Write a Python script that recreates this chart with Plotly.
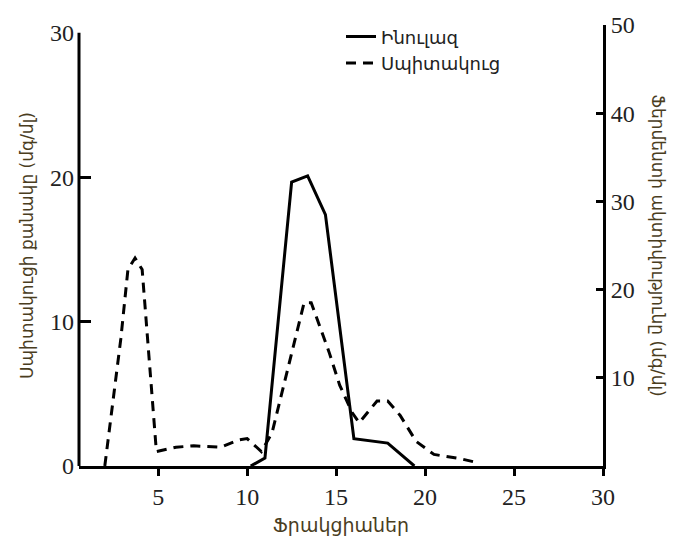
import plotly.graph_objects as go

# Inulase activity (right axis)
inulase_x = [10.2, 11.0, 12.5, 13.4, 14.4, 16.0, 17.9, 19.4]
inulase_y = [0.0, 0.9, 32.2, 32.9, 28.5, 3.1, 2.6, 0.0]

# Protein amount (left axis)
protein_x = [2.0, 2.9, 3.3, 3.7, 4.1, 4.9, 6.0, 7.0, 8.5, 9.5, 10.0, 10.8, 11.4,
             11.9, 12.4, 13.2, 13.6, 14.6, 15.2, 15.9, 16.3, 17.3, 17.9, 18.6,
             19.5, 20.5, 22.0, 22.7]
protein_y = [0.0, 8.8, 13.6, 14.4, 13.6, 1.0, 1.3, 1.4, 1.3, 1.8, 1.9, 1.0, 2.3,
             4.8, 7.4, 11.3, 11.3, 7.9, 5.6, 3.7, 3.0, 4.5, 4.5, 3.5,
             1.7, 0.8, 0.5, 0.3]

x_ticks = [5, 10, 15, 20, 25, 30]
left_ticks = [0, 10, 20, 30]
left_tick_marks = [10, 20]
right_ticks = [10, 20, 30, 40, 50]

name_inulase = "Ինուլազ"
name_protein = "Սպիտակուց"
x_title = "Ֆրակցիաներ"
left_title = "Սպիտակուցի քանակը (մգ/մլ)"
right_title = "Ֆերմենտի ակտիվությունը (մգ/մլ)"

title_color = "#4a3d1e"
arm_font = "DejaVu Sans"
num_font = "Liberation Serif"

fig = go.Figure()
fig.add_trace(go.Scatter(x=inulase_x, y=inulase_y, mode="lines", name=name_inulase,
                         yaxis="y2", line=dict(color="black", width=3)))
fig.add_trace(go.Scatter(x=protein_x, y=protein_y, mode="lines", name=name_protein,
                         yaxis="y", line=dict(color="black", width=3, dash="10px,7px")))

fig.update_layout(
    width=677, height=545,
    margin=dict(l=79, r=74, t=16, b=70),
    paper_bgcolor="white", plot_bgcolor="white",
    showlegend=True,
    legend=dict(x=0.50, y=1.015, xanchor="left", yanchor="top",
                bgcolor="rgba(0,0,0,0)", font=dict(family=arm_font, size=18, color="#222"),
                tracegroupgap=0),
    xaxis=dict(range=[0.55, 30], tickvals=x_ticks, ticks="outside", ticklen=7, tickwidth=3,
               tickcolor="black", showline=True, linecolor="black", linewidth=3,
               showgrid=False, zeroline=False,
               tickfont=dict(family=num_font, size=24, color="#222"),
               title=dict(text=x_title, font=dict(family=arm_font, size=19, color=title_color),
                          standoff=10)),
    yaxis=dict(range=[0, 30.53], tickvals=left_ticks, ticks="", ticklabelstandoff=4,
               showline=False, showgrid=False, zeroline=False,
               minor=dict(tickvals=left_tick_marks, ticks="inside", ticklen=12, tickwidth=3,
                          tickcolor="black", showgrid=False),
               tickfont=dict(family=num_font, size=24, color="#222"),
               title=dict(text=left_title, font=dict(family=arm_font, size=17, color=title_color),
                          standoff=12)),
    yaxis2=dict(range=[0, 50], tickvals=right_ticks, ticks="inside", ticklen=7, tickwidth=3,
                tickcolor="black", showline=True, linecolor="black", linewidth=3,
                overlaying="y", side="right", showgrid=False, zeroline=False,
                tickfont=dict(family=num_font, size=24, color="#222")),
    shapes=[dict(type="line", xref="paper", yref="y", x0=0, x1=0,
                 y0=left_ticks[0], y1=left_ticks[-1],
                 line=dict(color="black", width=3))],
    annotations=[dict(text=right_title, xref="paper", yref="paper", x=1.0, y=0.5,
                      xanchor="center", yanchor="middle", xshift=55, textangle=90,
                      showarrow=False,
                      font=dict(family=arm_font, size=17, color=title_color))],
)

fig.write_html("out.html")
